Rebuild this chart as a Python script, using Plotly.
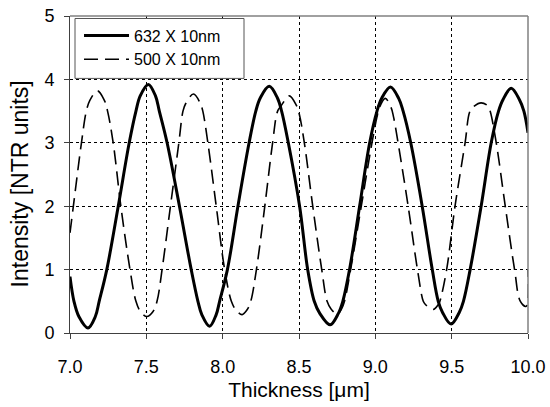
import plotly.graph_objects as go

# Solid curve: 632 X 10nm
x_632 = [7.0, 7.026, 7.058, 7.118, 7.166, 7.191, 7.241, 7.316, 7.388, 7.432, 7.460,
         7.513, 7.560, 7.585, 7.636, 7.717, 7.794, 7.838, 7.864, 7.914, 7.957,
         7.980, 8.031, 8.100, 8.173, 8.217, 8.247, 8.305, 8.358, 8.386, 8.430,
         8.504, 8.557, 8.600, 8.636, 8.704, 8.758, 8.787, 8.831, 8.897, 8.963,
         9.011, 9.041, 9.099, 9.153, 9.182, 9.232, 9.307, 9.373, 9.412, 9.441,
         9.496, 9.549, 9.577, 9.621, 9.693, 9.759, 9.807, 9.836, 9.890, 9.944,
         9.973, 10.0]
y_632 = [0.89, 0.50, 0.26, 0.08, 0.26, 0.50, 1.0, 2.0, 3.0, 3.5, 3.74,
         3.92, 3.74, 3.5, 3.0, 2.0, 1.0, 0.50, 0.285, 0.105, 0.285,
         0.50, 1.0, 2.0, 3.0, 3.5, 3.71, 3.89, 3.71, 3.5, 3.0,
         2.0, 1.0, 0.50, 0.31, 0.13, 0.31, 0.50, 1.0, 2.0, 3.0,
         3.5, 3.70, 3.88, 3.70, 3.5, 3.0, 2.0, 1.0, 0.50, 0.32,
         0.14, 0.32, 0.50, 1.0, 2.0, 3.0, 3.5, 3.68, 3.86, 3.68,
         3.5, 3.16]

# Dashed curve: 500 X 10nm
x_500 = [7.0, 7.022, 7.075, 7.107, 7.130, 7.180, 7.225, 7.246, 7.283, 7.333, 7.393,
         7.432, 7.461, 7.504, 7.544, 7.570, 7.603, 7.658, 7.713, 7.740, 7.758,
         7.809, 7.854, 7.870, 7.903, 7.958, 8.013, 8.057, 8.085, 8.127, 8.161,
         8.184, 8.221, 8.276, 8.327, 8.360, 8.385, 8.436, 8.483, 8.502, 8.535,
         8.590, 8.649, 8.684, 8.710, 8.750, 8.779, 8.798, 8.838, 8.908, 8.978,
         9.010, 9.026, 9.065, 9.104, 9.120, 9.149, 9.215, 9.276, 9.314, 9.328,
         9.379, 9.413, 9.423, 9.467, 9.522, 9.588, 9.620, 9.648, 9.693, 9.738,
         9.752, 9.792, 9.851, 9.912, 9.950, 9.988, 10.0]
y_500 = [1.58, 2.0, 3.0, 3.5, 3.67, 3.82, 3.67, 3.5, 3.0, 2.0, 1.0,
         0.50, 0.34, 0.26, 0.34, 0.50, 1.0, 2.0, 3.0, 3.5, 3.62,
         3.77, 3.62, 3.5, 3.0, 2.0, 1.0, 0.50, 0.37, 0.29, 0.37,
         0.50, 1.0, 2.0, 3.0, 3.5, 3.59, 3.74, 3.59, 3.45, 3.0,
         2.0, 1.0, 0.50, 0.38, 0.30, 0.38, 0.50, 1.0, 2.0, 3.0,
         3.4, 3.55, 3.70, 3.55, 3.4, 3.0, 2.0, 1.0, 0.50, 0.45,
         0.37, 0.45, 0.50, 1.0, 2.0, 3.0, 3.5, 3.58, 3.63, 3.58,
         3.5, 3.0, 2.0, 1.0, 0.50, 0.42, 1.0]

names = ["632 X 10nm", "500 X 10nm"]
x_ticks = [7.0, 7.5, 8.0, 8.5, 9.0, 9.5, 10.0]
x_tick_labels = ["7.0", "7.5", "8.0", "8.5", "9.0", "9.5", "10.0"]
y_ticks = [0, 1, 2, 3, 4, 5]
x_title = "Thickness [\u03bcm]"
y_title = "Intensity [NTR units]"

FONT = "Liberation Sans, Arial, sans-serif"

fig = go.Figure()
fig.add_trace(go.Scatter(x=x_632, y=y_632, mode="lines", name=names[0],
                         line=dict(color="black", width=3, shape="spline", smoothing=1)))
fig.add_trace(go.Scatter(x=x_500, y=y_500, mode="lines", name=names[1],
                         line=dict(color="black", width=1.6, shape="spline", smoothing=1,
                                   dash="14px,7px")))

fig.update_layout(
    width=550, height=407,
    margin=dict(l=70, r=22, t=15.5, b=74, autoexpand=False),
    paper_bgcolor="white", plot_bgcolor="white",
    font=dict(family=FONT, color="black", size=18),
    showlegend=True,
    legend=dict(x=0.0197, y=0.992, xanchor="left", yanchor="top",
                bgcolor="rgba(0,0,0,0)", borderwidth=0,
                itemwidth=45,
                font=dict(size=16, family=FONT), tracegroupgap=0),
    xaxis=dict(range=[7.0, 10.0], tickvals=x_ticks, ticktext=x_tick_labels,
               showgrid=True, gridcolor="black", griddash="dot", gridwidth=1,
               zeroline=False, showline=True, linecolor="#404040", linewidth=1,
               ticks="outside", ticklen=5, tickcolor="#404040",
               ticklabelstandoff=12, automargin=False,
               title=dict(text=x_title, font=dict(size=21), standoff=6),
               tickfont=dict(size=18)),
    yaxis=dict(range=[0, 5], tickvals=y_ticks,
               showgrid=True, gridcolor="black", griddash="dot", gridwidth=1,
               zeroline=False, showline=True, linecolor="#404040", linewidth=1,
               ticks="outside", ticklen=5, tickcolor="#404040",
               ticklabelstandoff=6, automargin=False,
               tickfont=dict(size=18)),
)

fig.add_annotation(text=y_title, xref="paper", yref="paper", x=-0.109, y=0.469,
                   xanchor="center", yanchor="middle", textangle=-90, showarrow=False,
                   font=dict(size=23, family=FONT, color="black"))

# legend frame (px 75..244 x 18..78 in the figure)
fig.add_shape(type="rect", xref="paper", yref="paper",
              x0=5 / 458, x1=174 / 458, y0=1 - 62.5 / 317.5, y1=1 - 2.5 / 317.5,
              line=dict(color="#555555", width=1), fillcolor="white", layer="above")

# grey frame on top and right
fig.add_shape(type="line", xref="paper", yref="paper", x0=0, x1=1, y0=1, y1=1,
              line=dict(color="#808080", width=1.5), layer="above")
fig.add_shape(type="line", xref="paper", yref="paper", x0=1, x1=1, y0=0, y1=1,
              line=dict(color="#808080", width=1.5), layer="above")

fig.write_html("out.html")
